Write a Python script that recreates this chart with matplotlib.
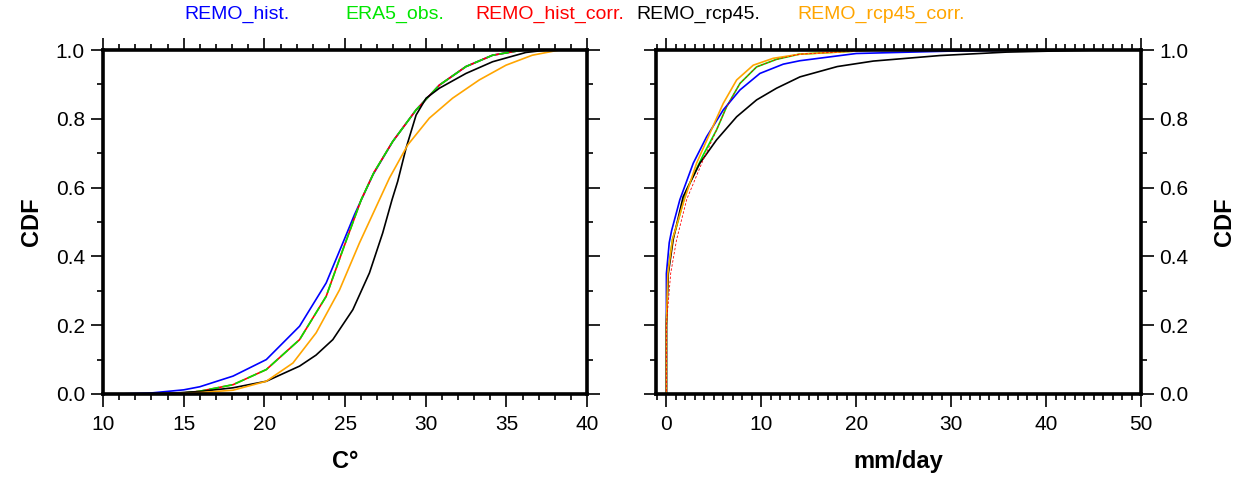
import matplotlib
matplotlib.use("Agg")
import matplotlib.pyplot as plt
from matplotlib.ticker import MultipleLocator

plt.rcParams['font.family'] = ['Liberation Sans', 'DejaVu Sans']

# legend names and colours
names = ['REMO_hist.', 'ERA5_obs.', 'REMO_hist_corr.', 'REMO_rcp45.', 'REMO_rcp45_corr.']
colors = ['#0000ff', '#00e600', '#ff0000', '#000000', '#ffa500']

# temperature CDFs (left panel)
t_hist_x = [11.0, 13.0, 15.0, 16.0, 18.06, 20.12, 22.18, 23.83, 24.86, 25.58, 26.72, 27.95, 29.4, 30.84, 32.49, 34.14, 36.0]
t_hist_y = [0.0, 0.003, 0.012, 0.021, 0.052, 0.10, 0.197, 0.323, 0.439, 0.521, 0.637, 0.734, 0.826, 0.898, 0.952, 0.985, 1.0]

t_obs_x = [13.3, 15.0, 16.0, 18.06, 20.12, 22.18, 23.83, 24.86, 26.0, 26.8, 27.95, 29.4, 30.84, 32.49, 34.14, 36.0]
t_obs_y = [0.0, 0.003, 0.008, 0.027, 0.071, 0.158, 0.284, 0.419, 0.565, 0.645, 0.734, 0.826, 0.898, 0.952, 0.985, 1.0]

t_corr_x = t_obs_x
t_corr_y = t_obs_y

t_rcp_x = [13.3, 16.0, 18.06, 20.12, 22.18, 23.2, 24.24, 25.48, 26.51, 27.33, 27.91, 28.26, 28.78, 29.4, 30.02, 30.84, 32.49, 34.14, 36.2, 37.5]
t_rcp_y = [0.0, 0.007, 0.018, 0.037, 0.081, 0.113, 0.158, 0.245, 0.352, 0.468, 0.565, 0.618, 0.715, 0.811, 0.86, 0.889, 0.932, 0.966, 0.993, 1.0]

t_rcpc_x = [13.3, 16.0, 18.06, 20.12, 21.77, 23.21, 24.66, 25.89, 27.13, 27.75, 28.88, 30.22, 31.66, 33.31, 34.97, 36.6, 38.26]
t_rcpc_y = [0.0, 0.004, 0.011, 0.037, 0.09, 0.178, 0.303, 0.439, 0.565, 0.628, 0.724, 0.802, 0.86, 0.913, 0.956, 0.985, 1.0]

# precipitation CDFs (right panel)
p_hist_x = [-1.05, 0.0, 0.0, 0.0, 0.3, 0.55, 1.42, 2.83, 4.24, 5.99, 7.75, 9.85, 12.31, 14.07, 20.0, 30.0, 38.0]
p_hist_y = [0.0, 0.0, 0.2, 0.35, 0.44, 0.475, 0.565, 0.671, 0.748, 0.826, 0.884, 0.932, 0.959, 0.969, 0.99, 0.997, 1.0]

p_obs_x = [-1.05, 0.0, 0.0, 0.15, 0.65, 1.07, 2.13, 3.88, 5.29, 6.34, 7.75, 9.5, 11.6, 14.0, 21.8]
p_obs_y = [0.0, 0.0, 0.2, 0.35, 0.45, 0.487, 0.594, 0.695, 0.768, 0.835, 0.903, 0.951, 0.973, 0.988, 1.0]

p_corr_x = [-1.05, 0.0, 0.0, 0.45, 1.07, 2.13, 3.88, 5.29, 6.34, 7.75, 9.5, 11.6, 14.0, 21.8]
p_corr_y = [0.0, 0.0, 0.2, 0.35, 0.448, 0.565, 0.681, 0.768, 0.835, 0.903, 0.951, 0.973, 0.988, 1.0]

p_rcp_x = [-1.05, 0.0, 0.0, 0.2, 0.72, 1.77, 3.53, 5.29, 7.4, 9.5, 11.6, 14.07, 18.0, 21.8, 28.8, 35.8, 45.3]
p_rcp_y = [0.0, 0.0, 0.2, 0.35, 0.45, 0.574, 0.671, 0.739, 0.806, 0.855, 0.889, 0.922, 0.952, 0.968, 0.984, 0.994, 1.0]

p_rcpc_x = [-1.05, 0.0, 0.0, 0.15, 0.65, 1.77, 3.18, 4.58, 5.99, 7.4, 9.15, 11.25, 14.07, 22.0]
p_rcpc_y = [0.0, 0.0, 0.2, 0.35, 0.45, 0.555, 0.671, 0.758, 0.845, 0.913, 0.956, 0.976, 0.988, 1.0]

yticks = [0.0, 0.2, 0.4, 0.6, 0.8, 1.0]


def style_axes(ax, label_side):
    for sp in ax.spines.values():
        sp.set_linewidth(2.6)
    ax.tick_params(which='both', direction='out', top=True, right=True, left=True, bottom=True,
                   labelsize=15, width=1.2, pad=4)
    ax.tick_params(axis='x', which='both', pad=6)
    ax.tick_params(which='major', length=9)
    ax.tick_params(which='minor', length=4.5)
    ax.set_yticks(yticks)
    ax.set_yticklabels(['%.1f' % v for v in yticks])
    ax.yaxis.set_minor_locator(MultipleLocator(0.1))
    if label_side == 'left':
        ax.tick_params(labelleft=True, labelright=False)
        ax.set_ylabel('CDF', fontsize=17, fontweight='bold', labelpad=9)
    else:
        ax.tick_params(labelleft=False, labelright=True)
        ax.yaxis.set_label_position('right')
        ax.set_ylabel('CDF', fontsize=17, fontweight='bold', labelpad=18)
    ax.set_ylim(0, 1)


fig = plt.figure(figsize=(12.48, 4.79), dpi=100)
ax1 = fig.add_axes([0.0825, 0.1775, 0.388, 0.718])
ax2 = fig.add_axes([0.5256, 0.1775, 0.3887, 0.718])

lw = 1.2
ax1.plot(t_hist_x, t_hist_y, color=colors[0], lw=lw)
ax1.plot(t_corr_x, t_corr_y, color=colors[2], lw=lw)
ax1.plot(t_obs_x, t_obs_y, color=colors[1], lw=lw, ls=(0, (6, 2)))
ax1.plot(t_rcp_x, t_rcp_y, color=colors[3], lw=lw)
ax1.plot(t_rcpc_x, t_rcpc_y, color=colors[4], lw=lw)
ax1.set_xlim(10, 40)
ax1.set_xticks([10, 15, 20, 25, 30, 35, 40])
ax1.xaxis.set_minor_locator(MultipleLocator(1))
style_axes(ax1, 'left')
ax1.set_xlabel('C°', fontsize=17, fontweight='bold', labelpad=12)

ax2.plot(p_obs_x, p_obs_y, color=colors[1], lw=lw)
ax2.plot(p_hist_x, p_hist_y, color=colors[0], lw=lw)
ax2.plot(p_rcp_x, p_rcp_y, color=colors[3], lw=lw)
ax2.plot(p_rcpc_x, p_rcpc_y, color=colors[4], lw=lw)
ax2.plot(p_corr_x, p_corr_y, color=colors[2], lw=0.6, ls=(0, (3, 2)))
ax2.set_xlim(-1.1, 50)
ax2.set_xticks([0, 10, 20, 30, 40, 50])
ax2.xaxis.set_minor_locator(MultipleLocator(1))
style_axes(ax2, 'right')
ax2.set_xlabel('mm/day', fontsize=17, fontweight='bold', labelpad=12)

# coloured legend across the top
legend_x = [0.148, 0.277, 0.381, 0.510, 0.639]
for name, c, x in zip(names, colors, legend_x):
    fig.text(x, 0.969, name, color=c, fontsize=14, ha='left', va='center')

fig.savefig('out.png', dpi=100)
